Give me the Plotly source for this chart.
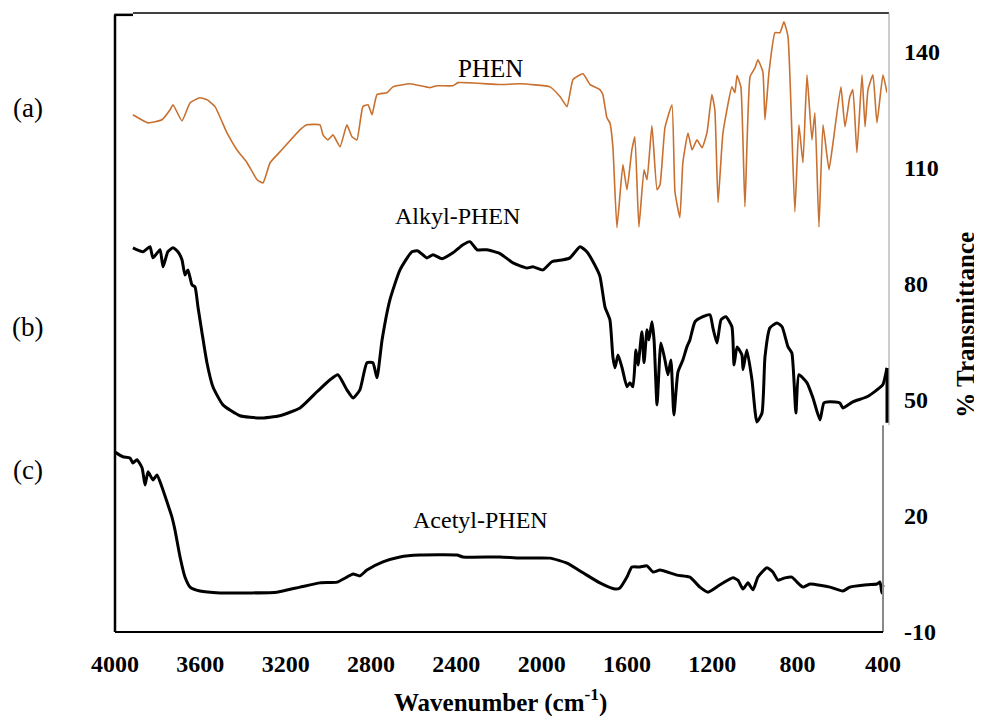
import plotly.graph_objects as go

# ---------------- data ----------------
phen_wn = [3916, 3845, 3780, 3742, 3728, 3686, 3648, 3602, 3569, 3531, 3475, 3428, 3381, 3334, 3306,
           3273, 3227, 3133, 3100, 3039, 3025, 3002, 2978, 2945, 2913, 2889, 2866, 2838, 2814, 2795,
           2772, 2725, 2697, 2617, 2523, 2491, 2416, 2392, 2195, 2102, 1961, 1914, 1881, 1853, 1806,
           1773, 1727, 1713, 1694, 1680, 1666, 1647, 1619, 1600, 1577, 1563, 1544, 1520, 1506, 1483,
           1459, 1445, 1422, 1389, 1375, 1352, 1338, 1314, 1295, 1272, 1248, 1225, 1202, 1188, 1173,
           1150, 1108, 1094, 1084, 1066, 1047, 1023, 1000, 986, 963, 953, 934, 906, 883, 864,
           845, 813, 794, 775, 756, 733, 719, 700, 681, 653, 634, 597, 578, 555, 541,
           522, 498, 484, 470, 447, 428, 400, 381]
phen_t = [123.7, 121.6, 122.4, 125.0, 126.3, 122.1, 126.8, 128.1, 127.6, 125.8, 119.0, 114.6, 111.3, 106.9, 106.1,
          111.3, 114.1, 119.8, 121.1, 121.1, 118.5, 117.2, 118.5, 115.4, 121.1, 118.0, 117.2, 125.8, 126.3, 123.7,
          128.9, 129.4, 130.9, 131.7, 130.7, 131.2, 131.2, 132.0, 131.5, 131.7, 130.9, 128.4, 125.8, 132.8, 134.3,
          131.5, 130.2, 128.9, 122.9, 121.6, 115.4, 94.5, 110.8, 104.3, 114.6, 118.0, 94.7, 109.5, 106.9, 120.9,
          104.3, 105.6, 120.3, 126.3, 103.8, 97.1, 111.3, 119.0, 114.6, 117.2, 115.2, 119.0, 128.9, 125.0, 101.0,
          119.0, 130.9, 129.4, 133.8, 130.9, 99.9, 133.5, 135.8, 137.9, 134.8, 122.4, 134.8, 144.9, 144.9, 147.7,
          143.9, 98.6, 121.1, 111.3, 134.0, 117.2, 124.2, 94.7, 121.1, 109.5, 116.5, 130.9, 120.6, 128.4, 130.2,
          113.9, 134.0, 120.6, 130.2, 134.0, 121.6, 134.0, 129.4]

alkyl_wn = [3916, 3869, 3836, 3822, 3789, 3775, 3752, 3728, 3705, 3686, 3672, 3658, 3639, 3625, 3611,
            3592, 3569, 3541, 3494, 3414, 3320, 3227, 3133, 3053, 2992, 2955, 2913, 2884, 2852, 2819,
            2791, 2772, 2748, 2711, 2664, 2608, 2580, 2538, 2509, 2467, 2416, 2369, 2336, 2303, 2256,
            2195, 2134, 2069, 2041, 1994, 1952, 1900, 1867, 1820, 1788, 1759, 1727, 1703, 1680, 1666,
            1656, 1642, 1623, 1600, 1586, 1572, 1558, 1548, 1530, 1520, 1506, 1497, 1483, 1473, 1459,
            1441, 1422, 1408, 1394, 1380, 1361, 1338, 1319, 1305, 1281, 1244, 1211, 1197, 1178, 1159,
            1136, 1108, 1098, 1084, 1061, 1056, 1038, 1014, 991, 967, 953, 930, 897, 873, 845,
            827, 808, 794, 756, 728, 695, 677, 648, 602, 588, 541, 475, 428, 400, 381]
alkyl_t = [89.3, 88.3, 89.6, 86.7, 88.8, 84.4, 88.3, 89.3, 88.3, 86.2, 82.3, 83.6, 79.7, 79.2, 74.0,
           67.3, 59.6, 53.4, 48.7, 45.9, 45.3, 45.9, 47.9, 52.1, 55.2, 56.5, 52.6, 50.5, 52.6, 59.6,
           59.6, 55.7, 65.5, 75.9, 83.6, 88.3, 88.5, 86.7, 87.5, 86.5, 88.0, 90.1, 90.9, 88.8, 88.8,
           87.8, 85.4, 84.1, 84.4, 83.6, 85.7, 86.2, 86.7, 89.6, 88.3, 85.7, 82.0, 74.0, 70.7, 61.1,
           58.3, 61.6, 58.3, 53.4, 54.4, 53.4, 62.9, 59.0, 67.6, 59.6, 68.1, 65.5, 70.2, 65.5, 48.7,
           64.7, 60.3, 56.5, 60.3, 46.1, 57.2, 60.3, 63.7, 65.5, 70.2, 71.5, 72.0, 68.6, 64.7, 70.7,
           71.5, 68.9, 59.0, 63.7, 61.6, 57.8, 62.9, 55.2, 44.3, 46.6, 61.1, 68.6, 69.9, 68.9, 63.7,
           62.1, 46.6, 56.5, 54.4, 50.5, 44.8, 49.2, 49.5, 49.2, 47.9, 49.5, 50.8, 52.6, 54.0, 58.3]

acetyl_wn = [4000, 3963, 3930, 3916, 3897, 3873, 3859, 3845, 3822, 3803, 3780, 3756, 3733, 3719, 3695,
             3672, 3648, 3602, 3508, 3367, 3241, 3133, 3039, 2959, 2913, 2884, 2852, 2819, 2744, 2664,
             2570, 2397, 2369, 2195, 2102, 1961, 1881, 1806, 1727, 1656, 1633, 1600, 1577, 1539, 1506,
             1478, 1445, 1366, 1305, 1258, 1220, 1164, 1103, 1080, 1056, 1033, 1009, 986, 944, 916,
             892, 859, 827, 803, 775, 742, 648, 588, 555, 475, 428, 414, 405, 400]
acetyl_t = [36.5, 35.3, 35.0, 33.7, 34.5, 32.4, 28.0, 31.4, 29.3, 30.6, 27.5, 23.6, 19.7, 16.4, 9.4,
            4.2, 1.6, 0.6, 0.1, 0.1, 0.3, 1.6, 2.7, 2.9, 4.2, 5.0, 4.5, 6.0, 8.1, 9.4,
            9.9, 9.9, 9.4, 9.4, 9.1, 9.1, 7.8, 5.3, 2.7, 1.1, 1.4, 4.2, 6.8, 6.8, 7.1,
            5.5, 6.0, 4.7, 4.2, 1.6, 0.3, 2.2, 4.0, 3.4, 1.1, 2.7, 0.9, 4.2, 6.6, 5.5,
            3.4, 4.0, 4.2, 2.9, 1.6, 2.4, 1.6, 0.6, 1.6, 2.2, 2.4, 2.9, 0.1, 2.2]

x_ticks = [4000, 3600, 3200, 2800, 2400, 2000, 1600, 1200, 800, 400]
y_ticks = [-10, 20, 50, 80, 110, 140]

series_names = ["PHEN", "Alkyl-PHEN", "Acetyl-PHEN"]
panel_labels = ["(a)", "(b)", "(c)"]

SERIF = "Liberation Serif, Times New Roman, serif"

fig = go.Figure()
fig.add_trace(go.Scatter(x=phen_wn, y=phen_t, mode="lines", name=series_names[0],
                         line=dict(color="#C8702F", width=1.6, shape="spline", smoothing=0.4),
                         showlegend=False))
fig.add_trace(go.Scatter(x=alkyl_wn, y=alkyl_t, mode="lines", name=series_names[1],
                         line=dict(color="black", width=3, shape="spline", smoothing=0.5),
                         showlegend=False))
fig.add_trace(go.Scatter(x=acetyl_wn, y=acetyl_t, mode="lines", name=series_names[2],
                         line=dict(color="black", width=3, shape="spline", smoothing=0.5),
                         showlegend=False))

# frame pieces (paper coordinates)
shapes = [
    dict(type="line", xref="paper", yref="paper", x0=0, x1=0, y0=0, y1=0.997, line=dict(color="black", width=2.5)),
    dict(type="line", xref="paper", yref="paper", x0=-0.001, x1=0.0233, y0=0.997, y1=0.997, line=dict(color="black", width=2.5)),
    dict(type="line", xref="paper", yref="paper", x0=0.0233, x1=1.0026, y0=1.0, y1=1.0, line=dict(color="black", width=1.3)),
    dict(type="line", xref="paper", yref="paper", x0=1.0026, x1=1.0026, y0=0.334, y1=1.0, line=dict(color="#9a9a9a", width=1)),
    dict(type="line", xref="paper", yref="paper", x0=0.9948, x1=0.9948, y0=0, y1=0.334, line=dict(color="#8a8a8a", width=2)),
    dict(type="line", xref="paper", yref="paper", x0=0, x1=0.9948, y0=0, y1=0, line=dict(color="black", width=2)),
    dict(type="line", xref="paper", yref="paper", x0=1.0, x1=1.0, y0=0.338, y1=0.4265, line=dict(color="black", width=3)),
]

def ann(text, x, y, size, angle=0):
    return dict(text=text, x=x, y=y, xref="paper", yref="paper", showarrow=False,
                xanchor="center", yanchor="middle", textangle=angle,
                font=dict(family=SERIF, size=size, color="black"))

annotations = [
    ann(series_names[0], 0.486, 0.911, 25),
    ann(series_names[1], 0.444, 0.672, 24),
    ann(series_names[2], 0.473, 0.181, 24),
    ann(panel_labels[0], -0.113, 0.847, 27),
    ann(panel_labels[1], -0.113, 0.493, 27),
    ann(panel_labels[2], -0.113, 0.262, 27),
    ann("<b>% Transmittance</b>", 1.102, 0.496, 25, -90),
    ann("<b>Wavenumber (cm<sup>-1</sup>)</b>", 0.499, -0.11, 25),
]

fig.update_layout(
    width=974, height=708,
    margin=dict(l=107, r=95, t=5, b=84),
    paper_bgcolor="white", plot_bgcolor="white",
    shapes=shapes, annotations=annotations,
    xaxis=dict(range=[4000, 381], tickvals=x_ticks, ticktext=[str(v) for v in x_ticks],
               showgrid=False, zeroline=False, showline=False, ticks="",
               ticklabelstandoff=15,
               tickfont=dict(family=SERIF, size=24, color="black", weight="bold")),
    yaxis=dict(range=[-10, 150], tickvals=y_ticks, ticktext=[str(v) for v in y_ticks],
               side="right", showgrid=False, zeroline=False, showline=False, ticks="",
               ticklabelstandoff=16,
               tickfont=dict(family=SERIF, size=24, color="black", weight="bold")),
)

fig.write_html(
    "out.html",
    post_script="document.documentElement.style.overflow='hidden';document.body.style.overflow='hidden';",
)
